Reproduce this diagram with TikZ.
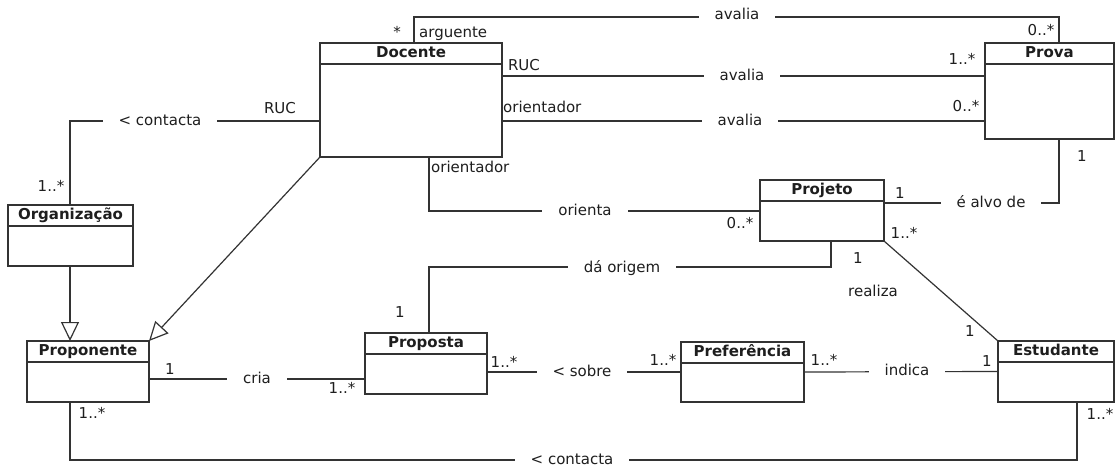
\documentclass[tikz,border=0pt]{standalone}
\usepackage{fontspec}
\setmainfont{DejaVu Sans}
\usetikzlibrary{calc,arrows.meta}
\definecolor{ink}{HTML}{333333}
\definecolor{txt}{HTML}{1E1E1E}

% class box: name, x, y (top-left), width, height, title
\newcommand\umlclass[6]{%
  \node[classbox, minimum width=#4pt, minimum height=#5pt, anchor=north west] (#1) at (#2,#3) {};
  \draw[assoc] ($(#1.north west)+(0,21)$) -- ($(#1.north east)+(0,21)$);
  \node[classtitle] (#1-title) at ($(#1.north)+(0,10.5)$) {#6};
}

\begin{document}
\begin{tikzpicture}[x=1pt,y=-1pt,
  font=\fontsize{15}{18}\selectfont,
  classbox/.style={draw=ink, line width=1.2pt, fill=white, outer sep=0pt, inner sep=0pt},
  classtitle/.style={font=\fontsize{15}{18}\selectfont\bfseries, text=txt, inner sep=0pt, text height=11pt, text depth=3pt},
  assoc/.style={draw=ink, line width=1.2pt},
  gen/.style={assoc, -{Triangle[open, length=19pt, width=18pt, fill=white]}},
  assocname/.style={fill=white, inner xsep=16pt, inner ysep=1pt, text=txt, text height=11pt, text depth=3pt},
  mult/.style={inner sep=0pt, text=txt, text height=11pt, text depth=3pt}]

\fill[white] (0,0) rectangle (1115,466);
\useasboundingbox (0,0) rectangle (1115,466);

% ---------- classes ----------
\umlclass{docente}{320}{43}{182}{114}{Docente}
\umlclass{prova}{985}{43}{129}{96}{Prova}
\umlclass{organizacao}{8}{205}{125}{61}{Organização}
\umlclass{proponente}{27}{341}{122}{61}{Proponente}
\umlclass{projeto}{760}{180}{124}{61}{Projeto}
\umlclass{proposta}{365}{333}{122}{61}{Proposta}
\umlclass{preferencia}{681}{342}{123}{60}{Preferência}
\umlclass{estudante}{998}{341}{116}{61}{Estudante}

% ---------- anchor points on the boxes ----------
\coordinate (argA) at ($(docente.north west)+(94,0)$);
\coordinate (argB) at ($(prova.north west)+(74,0)$);
\coordinate (rucA) at ($(docente.north east)+(0,33)$);
\coordinate (oriA) at ($(docente.north east)+(0,78)$);
\coordinate (alvoA) at ($(prova.south west)+(74,0)$);
\coordinate (alvoB) at ($(projeto.north east)+(0,23)$);
\coordinate (orientaA) at ($(docente.south west)+(109,0)$);
\coordinate (orientaB) at ($(projeto.north west)+(0,31)$);
\coordinate (contA) at ($(docente.north west)+(0,78)$);
\coordinate (orgTop) at ($(organizacao.north west)+(62,0)$);
\coordinate (criaA) at ($(proponente.north east)+(0,38)$);
\coordinate (sobreA) at ($(proposta.north east)+(0,39)$);
\coordinate (origA) at ($(projeto.south west)+(71,0)$);
\coordinate (origB) at ($(proposta.north)+(3,0)$);
\coordinate (contB1) at ($(proponente.south west)+(43,0)$);
\coordinate (contB2) at ($(estudante.south west)+(79,0)$);

% ---------- connectors ----------
\draw[assoc] (argA) -- ++(0,-26) -| (argB);
\draw[assoc] (rucA) -- (rucA -| prova.west);
\draw[assoc] (oriA) -- (oriA -| prova.west);
\draw[assoc] (alvoA) |- (alvoB);
\draw[assoc] (orientaA) |- (orientaB);
\draw[assoc] (contA) -| (orgTop);
\draw[gen] (orgTop |- organizacao.south) -- (orgTop |- proponente.north);
\draw[gen] (docente.south west) -- (proponente.north east);
\draw[assoc] (criaA) -- (criaA -| proposta.west);
\draw[assoc] (sobreA) -- (sobreA -| preferencia.west);
\draw[assoc] (preferencia.east) -- (estudante.west);
\draw[assoc] (projeto.south east) -- (estudante.north west);
\draw[assoc] (origA) -- ++(0,26) -| (origB);
\draw[assoc] (contB1) -- ++(0,58) -| (contB2);

% ---------- association names ----------
\node[assocname] (n-aval1) at (737,15) {avalia};
\node[assocname] (n-aval2) at (742,76) {avalia};
\node[assocname] (n-aval3) at (740,121) {avalia};
\node[assocname] (n-alvo) at (991,203) {é alvo de};
\node[assocname] (n-orienta) at (585,211) {orienta};
\node[assocname] (n-cont1) at (160,121) {< contacta};
\node[assocname] (n-cria) at (257,379) {cria};
\node[assocname] (n-sobre) at (582,372) {< sobre};
\node[assocname] (n-indica) at (907,371) {indica};
\node[mult] (n-realiza) at (873,292) {realiza};
\node[assocname] (n-orig) at (622,268) {dá origem};
\node[assocname] (n-cont2) at (572,460) {< contacta};

% ---------- roles and multiplicities ----------
\node[mult] (m-arg1) at (397,33) {*};
\node[mult, anchor=west] (r-arg) at (419,33) {arguente};
\node[mult] (m-arg2) at (1041,31) {0..*};
\node[mult] (r-ruc1) at (524,66) {RUC};
\node[mult] (m-ruc1) at (962,60) {1..*};
\node[mult, anchor=west] (r-ori1) at (503,108) {orientador};
\node[mult] (m-ori1) at (966,107) {0..*};
\node[mult] (m-alvo1) at (900,194) {1};
\node[mult] (m-alvo2) at (1082,157) {1};
\node[mult, anchor=west] (r-ori2) at (431,168) {orientador};
\node[mult] (m-orienta) at (740,224) {0..*};
\node[mult] (r-ruc2) at (280,109) {RUC};
\node[mult] (m-org) at (51,187) {1..*};
\node[mult] (m-cria1) at (170,370) {1};
\node[mult] (m-cria2) at (342,389) {1..*};
\node[mult] (m-sobre1) at (504,363) {1..*};
\node[mult] (m-sobre2) at (663,361) {1..*};
\node[mult] (m-indica1) at (824,361) {1..*};
\node[mult] (m-indica2) at (987,362) {1};
\node[mult] (m-real1) at (904,234) {1..*};
\node[mult] (m-real2) at (970,332) {1};
\node[mult] (m-orig1) at (858,259) {1};
\node[mult] (m-orig2) at (400,313) {1};
\node[mult] (m-cont1) at (92,414) {1..*};
\node[mult] (m-cont2) at (1100,415) {1..*};

\end{tikzpicture}
\end{document}
